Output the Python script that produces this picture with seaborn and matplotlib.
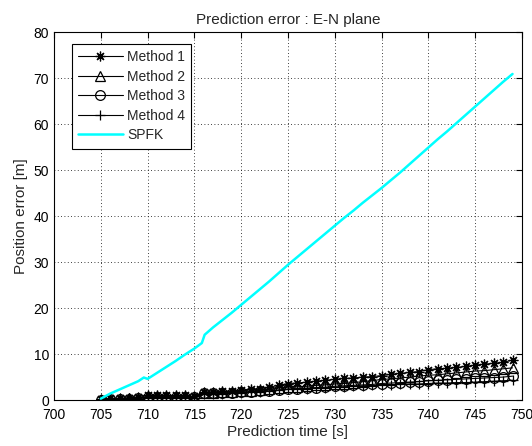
import matplotlib
matplotlib.use("Agg")
import matplotlib.pyplot as plt
import seaborn as sns
import pandas as pd
import numpy as np

# Prediction time [s]
t = list(range(705, 750))

method1 = [0.2, 0.4, 0.4, 0.5, 0.7, 1.1, 1.1, 1.0, 1.0, 1.0, 0.8, 1.8, 1.8, 1.9, 2.0, 2.2, 2.3, 2.5, 2.8, 3.2,
           3.6, 3.7, 3.9, 4.1, 4.3, 4.5, 4.7, 4.8, 5.0, 5.1, 5.3, 5.6, 5.8, 6.0, 6.2, 6.6, 6.8, 6.9, 7.1, 7.3,
           7.6, 7.8, 8.0, 8.2, 8.7]
method2 = [0.1, 0.3, 0.3, 0.4, 0.5, 0.8, 0.8, 0.8, 0.8, 0.8, 0.7, 1.6, 1.6, 1.7, 1.8, 1.9, 2.0, 2.1, 2.3, 2.6,
           2.8, 2.9, 3.0, 3.2, 3.3, 3.5, 3.6, 3.8, 4.0, 4.2, 4.5, 4.6, 4.8, 5.0, 5.2, 5.4, 5.5, 5.7, 5.9, 6.1,
           6.3, 6.4, 6.6, 6.8, 7.0]
method3 = [0.1, 0.2, 0.2, 0.3, 0.4, 0.6, 0.6, 0.6, 0.6, 0.6, 0.6, 1.5, 1.5, 1.6, 1.6, 1.7, 1.8, 1.9, 2.0, 2.2,
           2.4, 2.5, 2.6, 2.7, 2.8, 3.0, 3.1, 3.2, 3.3, 3.4, 3.6, 3.7, 3.8, 3.9, 4.0, 4.2, 4.3, 4.4, 4.5, 4.6,
           4.7, 4.8, 4.9, 5.0, 5.2]
method4 = [0.0, 0.2, 0.2, 0.2, 0.3, 0.5, 0.5, 0.5, 0.5, 0.5, 0.5, 1.3, 1.3, 1.4, 1.5, 1.6, 1.7, 1.8, 1.9, 2.1,
           2.3, 2.4, 2.5, 2.6, 2.7, 2.8, 2.9, 3.0, 3.1, 3.2, 3.2, 3.3, 3.4, 3.5, 3.5, 3.6, 3.7, 3.7, 3.8, 3.8,
           3.9, 4.0, 4.1, 4.2, 4.3]

# SPFK
spfk_t = [705.0, 706.0, 707.0, 708.0, 709.0, 709.6, 710.0, 711.0, 712.0, 713.0, 714.0, 715.0, 715.8, 716.1,
          717.0, 718.0, 719.0, 720.0, 721.0, 722.0, 723.0, 724.0, 725.0, 726.0, 727.0, 728.0, 729.0, 730.0,
          731.0, 732.0, 733.0, 734.0, 735.0, 736.0, 737.0, 738.0, 739.0, 740.0, 741.0, 742.0, 743.0, 744.0,
          745.0, 746.0, 747.0, 748.0, 749.0]
spfk = [0.3, 1.4, 2.3, 3.2, 4.1, 4.9, 4.6, 5.9, 7.2, 8.5, 9.9, 11.2, 12.4, 14.2,
        15.8, 17.4, 19.0, 20.7, 22.4, 24.1, 25.8, 27.6, 29.4, 31.1, 32.8, 34.5, 36.2, 37.9,
        39.6, 41.2, 42.9, 44.5, 46.1, 47.8, 49.5, 51.3, 53.1, 54.9, 56.7, 58.4, 60.2, 62.0,
        63.8, 65.6, 67.4, 69.2, 70.9]

series_names = ["Method 1", "Method 2", "Method 3", "Method 4"]
series_vals = [method1, method2, method3, method4]
markers = [(8, 2, 0), "^", "o", "+"]

sns.set_style("white")
plt.rcParams["font.family"] = ["Liberation Sans", "DejaVu Sans"]
plt.rcParams["font.size"] = 10

fig = plt.figure(figsize=(5.32, 4.46), dpi=100)
ax = fig.add_axes([0.1015, 0.103, 0.8795, 0.825])

for name, vals, mk in zip(series_names, series_vals, markers):
    df = pd.DataFrame({"t": t, "err": vals})
    sns.lineplot(data=df, x="t", y="err", ax=ax, color="black", linewidth=0.8,
                 marker=mk, markersize=7, markerfacecolor="none",
                 markeredgecolor="black", markeredgewidth=0.9, label=name)

df_s = pd.DataFrame({"t": spfk_t, "err": spfk})
sns.lineplot(data=df_s, x="t", y="err", ax=ax, color="#00FFFF", linewidth=1.8, label="SPFK")

ax.set_xlim(700, 750)
ax.set_ylim(0, 80)
ax.set_xticks(np.arange(700, 751, 5))
ax.set_yticks(np.arange(0, 81, 10))
ax.grid(True, color="black", linestyle=(0, (1, 3)), linewidth=0.6)
ax.tick_params(direction="in", length=4, colors="black", labelsize=10, top=True, right=True)
ax.tick_params(axis="x", pad=6)
for sp in ax.spines.values():
    sp.set_color("black")
    sp.set_linewidth(0.8)
ax.set_xlabel("Prediction time [s]", fontsize=11, labelpad=2)
ax.set_ylabel("Position error [m]", fontsize=11)
ax.set_title("Prediction error : E-N plane", fontsize=11)

leg = ax.legend(loc="upper left", bbox_to_anchor=(0.0385, 0.968), borderaxespad=0, frameon=True,
                fancybox=False, edgecolor="black", framealpha=1, fontsize=10, handlelength=3.2,
                borderpad=0.45, labelspacing=0.4, handletextpad=0.3)
leg.get_frame().set_linewidth(0.8)

fig.savefig("out.png", dpi=100)
